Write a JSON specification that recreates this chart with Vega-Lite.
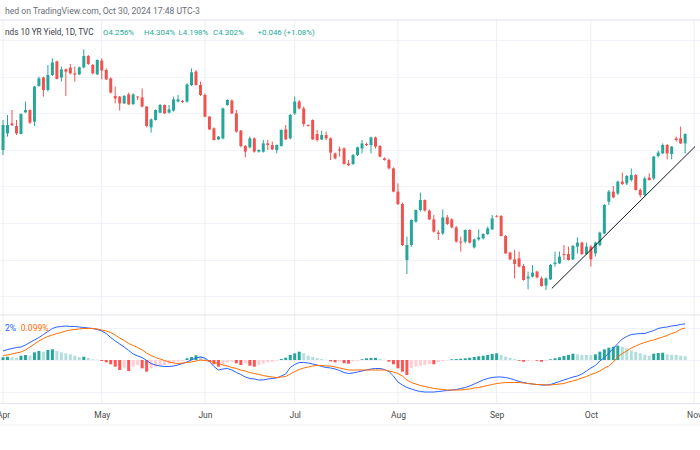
{
"$schema": "https://vega.github.io/schema/vega-lite/v6.json",
"width": 700,
"height": 403,
"autosize": {"type": "none"},
"padding": {"left": 0, "top": 0, "right": 0, "bottom": 47},
"background": "#ffffff",
"config": {"view": {"stroke": null}, "font": "Roboto"},
"datasets": {
"months": [{"i":0,"m":"Apr"},{"i":22,"m":"May"},{"i":45,"m":"Jun"},{"i":65,"m":"Jul"},{"i":88,"m":"Aug"},{"i":110,"m":"Sep"},{"i":131,"m":"Oct"},{"i":154,"m":"Nov"}],
"trend": [{"i":122.3,"p":3.558},{"i":154.2,"p":4.267}],
"candles": [
{"i":0,"open":4.25,"high":4.4,"low":4.225,"close":4.375},
{"i":1,"open":4.333,"high":4.425,"low":4.317,"close":4.375},
{"i":2,"open":4.383,"high":4.45,"low":4.37,"close":4.373},
{"i":3,"open":4.37,"high":4.4,"low":4.325,"close":4.333},
{"i":4,"open":4.33,"high":4.433,"low":4.328,"close":4.43},
{"i":5,"open":4.438,"high":4.492,"low":4.437,"close":4.45},
{"i":6,"open":4.45,"high":4.453,"low":4.38,"close":4.387},
{"i":7,"open":4.392,"high":4.57,"low":4.37,"close":4.567},
{"i":8,"open":4.57,"high":4.617,"low":4.567,"close":4.608},
{"i":9,"open":4.613,"high":4.617,"low":4.517,"close":4.55},
{"i":10,"open":4.55,"high":4.675,"low":4.542,"close":4.625},
{"i":11,"open":4.625,"high":4.708,"low":4.62,"close":4.688},
{"i":12,"open":4.693,"high":4.697,"low":4.603,"close":4.605},
{"i":13,"open":4.612,"high":4.667,"low":4.592,"close":4.653},
{"i":14,"open":4.653,"high":4.658,"low":4.52,"close":4.642},
{"i":15,"open":4.662,"high":4.68,"low":4.628,"close":4.633},
{"i":16,"open":4.633,"high":4.667,"low":4.592,"close":4.627},
{"i":17,"open":4.628,"high":4.667,"low":4.625,"close":4.663},
{"i":18,"open":4.663,"high":4.753,"low":4.658,"close":4.72},
{"i":19,"open":4.72,"high":4.725,"low":4.675,"close":4.68},
{"i":20,"open":4.675,"high":4.68,"low":4.628,"close":4.633},
{"i":21,"open":4.628,"high":4.703,"low":4.625,"close":4.7},
{"i":22,"open":4.697,"high":4.708,"low":4.603,"close":4.647},
{"i":23,"open":4.65,"high":4.658,"low":4.6,"close":4.603},
{"i":24,"open":4.608,"high":4.613,"low":4.533,"close":4.537},
{"i":25,"open":4.52,"high":4.567,"low":4.483,"close":4.508},
{"i":26,"open":4.517,"high":4.52,"low":4.447,"close":4.483},
{"i":27,"open":4.483,"high":4.525,"low":4.48,"close":4.52},
{"i":28,"open":4.528,"high":4.537,"low":4.475,"close":4.478},
{"i":29,"open":4.48,"high":4.533,"low":4.475,"close":4.528},
{"i":30,"open":4.517,"high":4.52,"low":4.5,"close":4.513},
{"i":31,"open":4.513,"high":4.558,"low":4.463,"close":4.467},
{"i":32,"open":4.467,"high":4.47,"low":4.363,"close":4.37},
{"i":33,"open":4.363,"high":4.408,"low":4.337,"close":4.403},
{"i":34,"open":4.4,"high":4.453,"low":4.397,"close":4.45},
{"i":35,"open":4.437,"high":4.48,"low":4.433,"close":4.475},
{"i":36,"open":4.475,"high":4.478,"low":4.43,"close":4.433},
{"i":37,"open":4.437,"high":4.475,"low":4.433,"close":4.453},
{"i":38,"open":4.447,"high":4.517,"low":4.442,"close":4.503},
{"i":39,"open":4.492,"high":4.525,"low":4.488,"close":4.503},
{"i":40,"open":4.495,"high":4.5,"low":4.487,"close":4.49},
{"i":41,"open":4.492,"high":4.583,"low":4.487,"close":4.578},
{"i":42,"open":4.575,"high":4.658,"low":4.57,"close":4.638},
{"i":43,"open":4.642,"high":4.65,"low":4.572,"close":4.575},
{"i":44,"open":4.575,"high":4.592,"low":4.52,"close":4.525},
{"i":45,"open":4.525,"high":4.533,"low":4.413,"close":4.417},
{"i":46,"open":4.417,"high":4.42,"low":4.35,"close":4.353},
{"i":47,"open":4.358,"high":4.363,"low":4.297,"close":4.3},
{"i":48,"open":4.303,"high":4.32,"low":4.3,"close":4.317},
{"i":49,"open":4.308,"high":4.462,"low":4.303,"close":4.458},
{"i":50,"open":4.475,"high":4.503,"low":4.472,"close":4.5},
{"i":51,"open":4.497,"high":4.503,"low":4.43,"close":4.433},
{"i":52,"open":4.433,"high":4.45,"low":4.337,"close":4.342},
{"i":53,"open":4.347,"high":4.35,"low":4.263,"close":4.27},
{"i":54,"open":4.27,"high":4.275,"low":4.213,"close":4.242},
{"i":55,"open":4.263,"high":4.317,"low":4.258,"close":4.308},
{"i":56,"open":4.308,"high":4.313,"low":4.237,"close":4.242},
{"i":57,"open":4.242,"high":4.253,"low":4.237,"close":4.25},
{"i":58,"open":4.242,"high":4.3,"low":4.237,"close":4.283},
{"i":59,"open":4.283,"high":4.3,"low":4.25,"close":4.275},
{"i":60,"open":4.275,"high":4.292,"low":4.25,"close":4.253},
{"i":61,"open":4.25,"high":4.278,"low":4.233,"close":4.275},
{"i":62,"open":4.27,"high":4.353,"low":4.267,"close":4.35},
{"i":63,"open":4.353,"high":4.375,"low":4.3,"close":4.303},
{"i":64,"open":4.308,"high":4.43,"low":4.303,"close":4.425},
{"i":65,"open":4.433,"high":4.517,"low":4.425,"close":4.492},
{"i":66,"open":4.492,"high":4.5,"low":4.453,"close":4.458},
{"i":67,"open":4.458,"high":4.467,"low":4.367,"close":4.38},
{"i":68,"open":4.375,"high":4.378,"low":4.367,"close":4.37},
{"i":69,"open":4.4,"high":4.403,"low":4.3,"close":4.303},
{"i":70,"open":4.33,"high":4.35,"low":4.292,"close":4.3},
{"i":71,"open":4.303,"high":4.347,"low":4.3,"close":4.325},
{"i":72,"open":4.325,"high":4.342,"low":4.3,"close":4.308},
{"i":73,"open":4.308,"high":4.313,"low":4.2,"close":4.237},
{"i":74,"open":4.233,"high":4.237,"low":4.203,"close":4.208},
{"i":75,"open":4.253,"high":4.267,"low":4.217,"close":4.247},
{"i":76,"open":4.258,"high":4.263,"low":4.177,"close":4.18},
{"i":77,"open":4.183,"high":4.2,"low":4.17,"close":4.175},
{"i":78,"open":4.18,"high":4.23,"low":4.175,"close":4.225},
{"i":79,"open":4.225,"high":4.267,"low":4.22,"close":4.263},
{"i":80,"open":4.258,"high":4.3,"low":4.233,"close":4.283},
{"i":81,"open":4.28,"high":4.287,"low":4.27,"close":4.275},
{"i":82,"open":4.275,"high":4.317,"low":4.233,"close":4.313},
{"i":83,"open":4.313,"high":4.317,"low":4.258,"close":4.267},
{"i":84,"open":4.27,"high":4.275,"low":4.213,"close":4.217},
{"i":85,"open":4.208,"high":4.213,"low":4.197,"close":4.2},
{"i":86,"open":4.2,"high":4.208,"low":4.153,"close":4.158},
{"i":87,"open":4.158,"high":4.163,"low":4.038,"close":4.042},
{"i":88,"open":4.042,"high":4.083,"low":3.975,"close":3.98},
{"i":89,"open":3.98,"high":3.987,"low":3.77,"close":3.775},
{"i":90,"open":3.7,"high":3.817,"low":3.63,"close":3.775},
{"i":91,"open":3.775,"high":3.903,"low":3.767,"close":3.9},
{"i":92,"open":3.892,"high":3.953,"low":3.887,"close":3.95},
{"i":93,"open":3.95,"high":4.037,"low":3.942,"close":4.0},
{"i":94,"open":4.0,"high":4.003,"low":3.942,"close":3.947},
{"i":95,"open":3.947,"high":3.953,"low":3.9,"close":3.903},
{"i":96,"open":3.903,"high":3.925,"low":3.837,"close":3.842},
{"i":97,"open":3.837,"high":3.85,"low":3.8,"close":3.83},
{"i":98,"open":3.833,"high":3.953,"low":3.825,"close":3.913},
{"i":99,"open":3.913,"high":3.925,"low":3.875,"close":3.88},
{"i":100,"open":3.903,"high":3.908,"low":3.858,"close":3.863},
{"i":101,"open":3.863,"high":3.87,"low":3.787,"close":3.792},
{"i":102,"open":3.792,"high":3.817,"low":3.742,"close":3.787},
{"i":103,"open":3.792,"high":3.853,"low":3.783,"close":3.85},
{"i":104,"open":3.85,"high":3.853,"low":3.783,"close":3.787},
{"i":105,"open":3.763,"high":3.808,"low":3.758,"close":3.803},
{"i":106,"open":3.803,"high":3.853,"low":3.797,"close":3.813},
{"i":107,"open":3.808,"high":3.833,"low":3.803,"close":3.83},
{"i":108,"open":3.83,"high":3.867,"low":3.825,"close":3.858},
{"i":109,"open":3.853,"high":3.925,"low":3.85,"close":3.908},
{"i":110,"open":3.92,"high":3.925,"low":3.913,"close":3.917},
{"i":111,"open":3.92,"high":3.925,"low":3.817,"close":3.82},
{"i":112,"open":3.82,"high":3.825,"low":3.73,"close":3.733},
{"i":113,"open":3.737,"high":3.742,"low":3.7,"close":3.703},
{"i":114,"open":3.703,"high":3.75,"low":3.608,"close":3.68},
{"i":115,"open":3.708,"high":3.742,"low":3.663,"close":3.667},
{"i":116,"open":3.67,"high":3.68,"low":3.597,"close":3.6},
{"i":117,"open":3.608,"high":3.642,"low":3.553,"close":3.617},
{"i":118,"open":3.617,"high":3.675,"low":3.613,"close":3.637},
{"i":119,"open":3.642,"high":3.647,"low":3.608,"close":3.613},
{"i":120,"open":3.608,"high":3.617,"low":3.567,"close":3.57},
{"i":121,"open":3.572,"high":3.613,"low":3.55,"close":3.608},
{"i":122,"open":3.603,"high":3.68,"low":3.6,"close":3.675},
{"i":123,"open":3.68,"high":3.742,"low":3.667,"close":3.687},
{"i":124,"open":3.683,"high":3.742,"low":3.68,"close":3.717},
{"i":125,"open":3.73,"high":3.775,"low":3.7,"close":3.725},
{"i":126,"open":3.73,"high":3.767,"low":3.697,"close":3.7},
{"i":127,"open":3.703,"high":3.775,"low":3.7,"close":3.77},
{"i":128,"open":3.767,"high":3.813,"low":3.733,"close":3.787},
{"i":129,"open":3.787,"high":3.792,"low":3.725,"close":3.73},
{"i":130,"open":3.73,"high":3.787,"low":3.725,"close":3.767},
{"i":131,"open":3.767,"high":3.775,"low":3.667,"close":3.703},
{"i":132,"open":3.733,"high":3.792,"low":3.717,"close":3.787},
{"i":133,"open":3.775,"high":3.842,"low":3.767,"close":3.837},
{"i":134,"open":3.833,"high":3.98,"low":3.83,"close":3.975},
{"i":135,"open":3.992,"high":4.05,"low":3.975,"close":4.042},
{"i":136,"open":4.042,"high":4.07,"low":4.008,"close":4.013},
{"i":137,"open":4.033,"high":4.097,"low":4.025,"close":4.092},
{"i":138,"open":4.092,"high":4.137,"low":4.075,"close":4.08},
{"i":139,"open":4.083,"high":4.125,"low":4.075,"close":4.12},
{"i":140,"open":4.1,"high":4.158,"low":4.092,"close":4.125},
{"i":141,"open":4.125,"high":4.13,"low":4.047,"close":4.05},
{"i":142,"open":4.05,"high":4.058,"low":4.013,"close":4.025},
{"i":143,"open":4.025,"high":4.117,"low":4.02,"close":4.108},
{"i":144,"open":4.112,"high":4.133,"low":4.097,"close":4.1},
{"i":145,"open":4.108,"high":4.22,"low":4.1,"close":4.217},
{"i":146,"open":4.22,"high":4.247,"low":4.213,"close":4.237},
{"i":147,"open":4.233,"high":4.283,"low":4.23,"close":4.275},
{"i":148,"open":4.275,"high":4.28,"low":4.203,"close":4.233},
{"i":149,"open":4.23,"high":4.27,"low":4.203,"close":4.267},
{"i":150,"open":4.308,"high":4.317,"low":4.292,"close":4.3},
{"i":151,"open":4.308,"high":4.367,"low":4.28,"close":4.283},
{"i":152,"open":4.283,"high":4.333,"low":4.233,"close":4.33}
],
"macd": [
{"i":0,"macd":0.0279,"signal":0.0139,"hist":0.0084,"phase":"aboveRising"},
{"i":1,"macd":0.0325,"signal":0.0155,"hist":0.0102,"phase":"aboveRising"},
{"i":2,"macd":0.0356,"signal":0.0186,"hist":0.0084,"phase":"aboveFalling"},
{"i":3,"macd":0.0387,"signal":0.0217,"hist":0.0071,"phase":"aboveFalling"},
{"i":4,"macd":0.0402,"signal":0.0248,"hist":0.0133,"phase":"aboveRising"},
{"i":5,"macd":0.0464,"signal":0.031,"hist":0.0155,"phase":"aboveRising"},
{"i":6,"macd":0.0542,"signal":0.0402,"hist":0.0133,"phase":"aboveFalling"},
{"i":7,"macd":0.0619,"signal":0.0495,"hist":0.0238,"phase":"aboveRising"},
{"i":8,"macd":0.0697,"signal":0.0588,"hist":0.0279,"phase":"aboveRising"},
{"i":9,"macd":0.0789,"signal":0.0666,"hist":0.0257,"phase":"aboveFalling"},
{"i":10,"macd":0.0882,"signal":0.0728,"hist":0.031,"phase":"aboveRising"},
{"i":11,"macd":0.0975,"signal":0.0774,"hist":0.0331,"phase":"aboveRising"},
{"i":12,"macd":0.1022,"signal":0.082,"hist":0.0279,"phase":"aboveFalling"},
{"i":13,"macd":0.1037,"signal":0.0851,"hist":0.0238,"phase":"aboveFalling"},
{"i":14,"macd":0.1053,"signal":0.0898,"hist":0.0207,"phase":"aboveFalling"},
{"i":15,"macd":0.1037,"signal":0.0929,"hist":0.0176,"phase":"aboveFalling"},
{"i":16,"macd":0.1037,"signal":0.0944,"hist":0.0133,"phase":"aboveFalling"},
{"i":17,"macd":0.1022,"signal":0.096,"hist":0.0093,"phase":"aboveFalling"},
{"i":18,"macd":0.1006,"signal":0.0975,"hist":0.0102,"phase":"aboveRising"},
{"i":19,"macd":0.0991,"signal":0.0975,"hist":0.0062,"phase":"aboveFalling"},
{"i":20,"macd":0.0975,"signal":0.0975,"hist":0.0022,"phase":"aboveFalling"},
{"i":21,"macd":0.0944,"signal":0.096,"hist":0.0009,"phase":"aboveFalling"},
{"i":22,"macd":0.0898,"signal":0.0929,"hist":-0.0031,"phase":"belowFalling"},
{"i":23,"macd":0.082,"signal":0.0898,"hist":-0.0071,"phase":"belowFalling"},
{"i":24,"macd":0.0697,"signal":0.0851,"hist":-0.0133,"phase":"belowFalling"},
{"i":25,"macd":0.0588,"signal":0.0774,"hist":-0.0207,"phase":"belowFalling"},
{"i":26,"macd":0.0495,"signal":0.0681,"hist":-0.031,"phase":"belowFalling"},
{"i":27,"macd":0.0402,"signal":0.0604,"hist":-0.0238,"phase":"belowRising"},
{"i":28,"macd":0.0294,"signal":0.0511,"hist":-0.0341,"phase":"belowFalling"},
{"i":29,"macd":0.0186,"signal":0.0449,"hist":-0.0207,"phase":"belowRising"},
{"i":30,"macd":0.0124,"signal":0.0387,"hist":-0.0155,"phase":"belowRising"},
{"i":31,"macd":0.0077,"signal":0.031,"hist":-0.0257,"phase":"belowFalling"},
{"i":32,"macd":-0.0015,"signal":0.0217,"hist":-0.0362,"phase":"belowFalling"},
{"i":33,"macd":-0.0108,"signal":0.0139,"hist":-0.0257,"phase":"belowRising"},
{"i":34,"macd":-0.0155,"signal":0.0077,"hist":-0.0217,"phase":"belowRising"},
{"i":35,"macd":-0.0186,"signal":0.0031,"hist":-0.0186,"phase":"belowRising"},
{"i":36,"macd":-0.0201,"signal":-0.0015,"hist":-0.0155,"phase":"belowRising"},
{"i":37,"macd":-0.0201,"signal":-0.0062,"hist":-0.0124,"phase":"belowRising"},
{"i":38,"macd":-0.0186,"signal":-0.0093,"hist":-0.0093,"phase":"belowRising"},
{"i":39,"macd":-0.0155,"signal":-0.0108,"hist":-0.0053,"phase":"belowRising"},
{"i":40,"macd":-0.0108,"signal":-0.0093,"hist":-0.0031,"phase":"belowRising"},
{"i":41,"macd":-0.0062,"signal":-0.0077,"hist":0.0053,"phase":"aboveRising"},
{"i":42,"macd":0.0,"signal":-0.0062,"hist":0.0093,"phase":"aboveRising"},
{"i":43,"macd":0.0062,"signal":-0.0031,"hist":0.0146,"phase":"aboveRising"},
{"i":44,"macd":0.0093,"signal":0.0,"hist":0.0115,"phase":"aboveFalling"},
{"i":45,"macd":0.0062,"signal":-0.0015,"hist":0.0053,"phase":"aboveFalling"},
{"i":46,"macd":-0.0046,"signal":-0.0031,"hist":-0.0053,"phase":"belowFalling"},
{"i":47,"macd":-0.0201,"signal":-0.0077,"hist":-0.0133,"phase":"belowFalling"},
{"i":48,"macd":-0.031,"signal":-0.0108,"hist":-0.0207,"phase":"belowFalling"},
{"i":49,"macd":-0.0279,"signal":-0.0155,"hist":-0.0133,"phase":"belowRising"},
{"i":50,"macd":-0.0263,"signal":-0.0186,"hist":-0.0071,"phase":"belowRising"},
{"i":51,"macd":-0.031,"signal":-0.0232,"hist":-0.0053,"phase":"belowRising"},
{"i":52,"macd":-0.0387,"signal":-0.0263,"hist":-0.0102,"phase":"belowFalling"},
{"i":53,"macd":-0.0449,"signal":-0.031,"hist":-0.0155,"phase":"belowFalling"},
{"i":54,"macd":-0.0526,"signal":-0.0341,"hist":-0.0102,"phase":"belowRising"},
{"i":55,"macd":-0.0573,"signal":-0.0387,"hist":-0.0176,"phase":"belowFalling"},
{"i":56,"macd":-0.0588,"signal":-0.0418,"hist":-0.0207,"phase":"belowFalling"},
{"i":57,"macd":-0.0619,"signal":-0.0449,"hist":-0.0155,"phase":"belowRising"},
{"i":58,"macd":-0.0619,"signal":-0.048,"hist":-0.0115,"phase":"belowRising"},
{"i":59,"macd":-0.0588,"signal":-0.0511,"hist":-0.0071,"phase":"belowRising"},
{"i":60,"macd":-0.0573,"signal":-0.0526,"hist":-0.0053,"phase":"belowRising"},
{"i":61,"macd":-0.0557,"signal":-0.0542,"hist":-0.0022,"phase":"belowRising"},
{"i":62,"macd":-0.0495,"signal":-0.0526,"hist":0.0031,"phase":"aboveRising"},
{"i":63,"macd":-0.0433,"signal":-0.0511,"hist":0.0071,"phase":"aboveRising"},
{"i":64,"macd":-0.0232,"signal":-0.0433,"hist":0.0155,"phase":"aboveRising"},
{"i":65,"macd":-0.0139,"signal":-0.0356,"hist":0.0207,"phase":"aboveRising"},
{"i":66,"macd":-0.0077,"signal":-0.0294,"hist":0.0257,"phase":"aboveRising"},
{"i":67,"macd":-0.0077,"signal":-0.0248,"hist":0.0207,"phase":"aboveFalling"},
{"i":68,"macd":-0.0093,"signal":-0.0217,"hist":0.0133,"phase":"aboveFalling"},
{"i":69,"macd":-0.0124,"signal":-0.0186,"hist":0.0093,"phase":"aboveFalling"},
{"i":70,"macd":-0.0155,"signal":-0.017,"hist":0.0062,"phase":"aboveFalling"},
{"i":71,"macd":-0.0201,"signal":-0.017,"hist":0.0031,"phase":"aboveFalling"},
{"i":72,"macd":-0.0232,"signal":-0.0186,"hist":0.0009,"phase":"aboveFalling"},
{"i":73,"macd":-0.0248,"signal":-0.0186,"hist":-0.004,"phase":"belowFalling"},
{"i":74,"macd":-0.0279,"signal":-0.0217,"hist":-0.0071,"phase":"belowFalling"},
{"i":75,"macd":-0.0325,"signal":-0.0248,"hist":-0.0053,"phase":"belowRising"},
{"i":76,"macd":-0.0387,"signal":-0.0279,"hist":-0.0102,"phase":"belowFalling"},
{"i":77,"macd":-0.0418,"signal":-0.031,"hist":-0.0115,"phase":"belowFalling"},
{"i":78,"macd":-0.0402,"signal":-0.031,"hist":-0.004,"phase":"belowRising"},
{"i":79,"macd":-0.0372,"signal":-0.031,"hist":-0.0022,"phase":"belowRising"},
{"i":80,"macd":-0.0341,"signal":-0.031,"hist":0.0022,"phase":"aboveRising"},
{"i":81,"macd":-0.031,"signal":-0.031,"hist":0.0053,"phase":"aboveRising"},
{"i":82,"macd":-0.0279,"signal":-0.031,"hist":0.0062,"phase":"aboveRising"},
{"i":83,"macd":-0.0263,"signal":-0.031,"hist":0.0068,"phase":"aboveRising"},
{"i":84,"macd":-0.0263,"signal":-0.031,"hist":0.004,"phase":"aboveFalling"},
{"i":85,"macd":-0.0294,"signal":-0.031,"hist":0.0009,"phase":"aboveFalling"},
{"i":86,"macd":-0.0356,"signal":-0.0341,"hist":-0.0053,"phase":"belowFalling"},
{"i":87,"macd":-0.0495,"signal":-0.0372,"hist":-0.0133,"phase":"belowFalling"},
{"i":88,"macd":-0.0681,"signal":-0.0418,"hist":-0.0257,"phase":"belowFalling"},
{"i":89,"macd":-0.0774,"signal":-0.0495,"hist":-0.0362,"phase":"belowFalling"},
{"i":90,"macd":-0.0851,"signal":-0.0619,"hist":-0.0464,"phase":"belowFalling"},
{"i":91,"macd":-0.0898,"signal":-0.0697,"hist":-0.0257,"phase":"belowRising"},
{"i":92,"macd":-0.0944,"signal":-0.0743,"hist":-0.0207,"phase":"belowRising"},
{"i":93,"macd":-0.0975,"signal":-0.0789,"hist":-0.0176,"phase":"belowRising"},
{"i":94,"macd":-0.0991,"signal":-0.082,"hist":-0.0155,"phase":"belowRising"},
{"i":95,"macd":-0.0991,"signal":-0.0851,"hist":-0.0124,"phase":"belowRising"},
{"i":96,"macd":-0.0991,"signal":-0.0882,"hist":-0.0133,"phase":"belowFalling"},
{"i":97,"macd":-0.0975,"signal":-0.0898,"hist":-0.0071,"phase":"belowRising"},
{"i":98,"macd":-0.096,"signal":-0.0913,"hist":-0.0031,"phase":"belowRising"},
{"i":99,"macd":-0.0944,"signal":-0.0929,"hist":-0.0009,"phase":"belowRising"},
{"i":100,"macd":-0.0929,"signal":-0.0929,"hist":0.0022,"phase":"aboveRising"},
{"i":101,"macd":-0.0913,"signal":-0.0929,"hist":0.0031,"phase":"aboveRising"},
{"i":102,"macd":-0.0882,"signal":-0.0929,"hist":0.004,"phase":"aboveRising"},
{"i":103,"macd":-0.0851,"signal":-0.0913,"hist":0.0053,"phase":"aboveRising"},
{"i":104,"macd":-0.0805,"signal":-0.0898,"hist":0.0071,"phase":"aboveRising"},
{"i":105,"macd":-0.0743,"signal":-0.0867,"hist":0.0093,"phase":"aboveRising"},
{"i":106,"macd":-0.0681,"signal":-0.0851,"hist":0.0115,"phase":"aboveRising"},
{"i":107,"macd":-0.0619,"signal":-0.082,"hist":0.0133,"phase":"aboveRising"},
{"i":108,"macd":-0.0573,"signal":-0.0789,"hist":0.0155,"phase":"aboveRising"},
{"i":109,"macd":-0.0542,"signal":-0.0759,"hist":0.0186,"phase":"aboveRising"},
{"i":110,"macd":-0.0526,"signal":-0.0728,"hist":0.0207,"phase":"aboveRising"},
{"i":111,"macd":-0.0526,"signal":-0.0712,"hist":0.0155,"phase":"aboveFalling"},
{"i":112,"macd":-0.0542,"signal":-0.0697,"hist":0.0102,"phase":"aboveFalling"},
{"i":113,"macd":-0.0573,"signal":-0.0697,"hist":0.0071,"phase":"aboveFalling"},
{"i":114,"macd":-0.0619,"signal":-0.0697,"hist":0.0031,"phase":"aboveFalling"},
{"i":115,"macd":-0.0666,"signal":-0.0697,"hist":-0.0022,"phase":"belowFalling"},
{"i":116,"macd":-0.0697,"signal":-0.0712,"hist":-0.0053,"phase":"belowFalling"},
{"i":117,"macd":-0.0728,"signal":-0.0728,"hist":-0.0031,"phase":"belowRising"},
{"i":118,"macd":-0.0743,"signal":-0.0743,"hist":-0.0009,"phase":"belowRising"},
{"i":119,"macd":-0.0759,"signal":-0.0759,"hist":-0.0022,"phase":"belowFalling"},
{"i":120,"macd":-0.0774,"signal":-0.0759,"hist":-0.0053,"phase":"belowFalling"},
{"i":121,"macd":-0.0774,"signal":-0.0774,"hist":-0.0022,"phase":"belowRising"},
{"i":122,"macd":-0.0759,"signal":-0.0774,"hist":0.0022,"phase":"aboveRising"},
{"i":123,"macd":-0.0712,"signal":-0.0759,"hist":0.0053,"phase":"aboveRising"},
{"i":124,"macd":-0.0666,"signal":-0.0743,"hist":0.0084,"phase":"aboveRising"},
{"i":125,"macd":-0.0619,"signal":-0.0728,"hist":0.0124,"phase":"aboveRising"},
{"i":126,"macd":-0.0573,"signal":-0.0681,"hist":0.0155,"phase":"aboveRising"},
{"i":127,"macd":-0.0526,"signal":-0.065,"hist":0.0195,"phase":"aboveRising"},
{"i":128,"macd":-0.0495,"signal":-0.0604,"hist":0.0176,"phase":"aboveFalling"},
{"i":129,"macd":-0.0433,"signal":-0.0557,"hist":0.0155,"phase":"aboveFalling"},
{"i":130,"macd":-0.0341,"signal":-0.0511,"hist":0.0155,"phase":"aboveFalling"},
{"i":131,"macd":-0.0248,"signal":-0.0449,"hist":0.0146,"phase":"aboveFalling"},
{"i":132,"macd":-0.017,"signal":-0.0402,"hist":0.0176,"phase":"aboveRising"},
{"i":133,"macd":-0.0031,"signal":-0.0341,"hist":0.0257,"phase":"aboveRising"},
{"i":134,"macd":0.0077,"signal":-0.0248,"hist":0.0331,"phase":"aboveRising"},
{"i":135,"macd":0.0217,"signal":-0.0186,"hist":0.0381,"phase":"aboveRising"},
{"i":136,"macd":0.0356,"signal":-0.0062,"hist":0.0412,"phase":"aboveRising"},
{"i":137,"macd":0.0511,"signal":0.0093,"hist":0.0443,"phase":"aboveRising"},
{"i":138,"macd":0.065,"signal":0.0201,"hist":0.0412,"phase":"aboveFalling"},
{"i":139,"macd":0.0728,"signal":0.0279,"hist":0.0362,"phase":"aboveFalling"},
{"i":140,"macd":0.0789,"signal":0.0372,"hist":0.03,"phase":"aboveFalling"},
{"i":141,"macd":0.0805,"signal":0.0433,"hist":0.0257,"phase":"aboveFalling"},
{"i":142,"macd":0.082,"signal":0.0495,"hist":0.0207,"phase":"aboveFalling"},
{"i":143,"macd":0.082,"signal":0.0542,"hist":0.0164,"phase":"aboveFalling"},
{"i":144,"macd":0.0867,"signal":0.0588,"hist":0.0133,"phase":"aboveFalling"},
{"i":145,"macd":0.0913,"signal":0.0619,"hist":0.0195,"phase":"aboveRising"},
{"i":146,"macd":0.0975,"signal":0.0666,"hist":0.0217,"phase":"aboveRising"},
{"i":147,"macd":0.1006,"signal":0.0712,"hist":0.0226,"phase":"aboveRising"},
{"i":148,"macd":0.1022,"signal":0.0759,"hist":0.0176,"phase":"aboveFalling"},
{"i":149,"macd":0.1053,"signal":0.082,"hist":0.0164,"phase":"aboveFalling"},
{"i":150,"macd":0.1068,"signal":0.0867,"hist":0.0155,"phase":"aboveFalling"},
{"i":151,"macd":0.11,"signal":0.095,"hist":0.0133,"phase":"aboveFalling"},
{"i":152,"macd":0.112,"signal":0.099,"hist":0.0115,"phase":"aboveFalling"}
]
},
"layer": [
  {
    "layer": [
      {"data": {"name": "months"},
       "mark": {"type": "rule", "color": "#eceef3", "strokeWidth": 1},
       "encoding": {
         "x": {"field": "i", "type": "quantitative",
               "scale": {"domain": [0.44, 154.2], "nice": false, "zero": false},
               "axis": {"values": [0,22,45,65,88,110,131,154],
                        "labelExpr": "datum.value < 11 ? 'Apr' : datum.value < 33 ? 'May' : datum.value < 55 ? 'Jun' : datum.value < 76 ? 'Jul' : datum.value < 99 ? 'Aug' : datum.value < 120 ? 'Sep' : datum.value < 142 ? 'Oct' : 'Nov'",
                        "grid": false, "ticks": false, "domain": true, "domainColor": "#e0e3eb",
                        "labelColor": "#4a4a4a", "labelFontSize": 8.5, "labelFont": "Roboto", "labelPadding": 7,
                        "labelOverlap": false, "labelBound": false, "labelFlush": false, "title": null}},
         "y": {"datum": 4.9, "type": "quantitative",
               "scale": {"domain": [3.425, 4.9], "range": [315, 20], "nice": false, "zero": false},
               "axis": {"values": [4.8, 4.617, 4.434, 4.251, 4.068, 3.885, 3.702, 3.519], "grid": true, "gridColor": "#f0f3fa",
                        "labels": false, "ticks": false, "domain": false, "title": null}},
         "y2": {"datum": 2.985}}},
      {"data": {"values": [{"line": "top"}]},
       "mark": {"type": "rule", "color": "#e0e3eb", "strokeWidth": 1},
       "encoding": {"y": {"datum": 4.9, "type": "quantitative"}}},
      {"data": {"values": [{"line": "pane"}]},
       "mark": {"type": "rule", "color": "#e0e3eb", "strokeWidth": 1},
       "encoding": {"y": {"datum": 3.425, "type": "quantitative"}}},
      {"data": {"values": [{"line": "timeaxis"}]},
       "mark": {"type": "rule", "color": "#eef0f3", "strokeWidth": 1},
       "encoding": {"y": {"datum": 2.875, "type": "quantitative"}}},
      {"data": {"name": "candles"},
       "mark": {"type": "rule", "strokeWidth": 1},
       "encoding": {
         "x": {"field": "i", "type": "quantitative"},
         "y": {"field": "low", "type": "quantitative"},
         "y2": {"field": "high"},
         "color": {"condition": {"test": "datum.close >= datum.open", "value": "#26a69a"}, "value": "#ef5350"}}},
      {"data": {"name": "candles"},
       "mark": {"type": "bar", "size": 3},
       "encoding": {
         "x": {"field": "i", "type": "quantitative"},
         "y": {"field": "open", "type": "quantitative"},
         "y2": {"field": "close"},
         "color": {"condition": {"test": "datum.close >= datum.open", "value": "#26a69a"}, "value": "#ef5350"}}},
      {"data": {"name": "trend"},
       "mark": {"type": "line", "color": "#131722", "strokeWidth": 1},
       "encoding": {"x": {"field": "i", "type": "quantitative"}, "y": {"field": "p", "type": "quantitative"}}},
      {"data": {"values": [{"t": "hed on TradingView.com, Oct 30, 2024 17:48 UTC-3"}]},
       "mark": {"type": "text", "align": "left", "baseline": "middle", "fontSize": 8.6, "color": "#6a6d78"},
       "encoding": {"x": {"datum": 0.44, "type": "quantitative"}, "y": {"datum": 4.945, "type": "quantitative"}, "text": {"field": "t"}}},
      {"data": {"values": [{"t": "nds 10 YR Yield, 1D, TVC"}]},
       "mark": {"type": "text", "align": "left", "baseline": "middle", "fontSize": 8.2, "color": "#3a3d46"},
       "encoding": {"x": {"datum": 0.44, "type": "quantitative"}, "y": {"datum": 4.835, "type": "quantitative"}, "text": {"field": "t"}}},
      {"data": {"values": [{"t": "O4.256%"}]},
       "mark": {"type": "text", "align": "left", "baseline": "middle", "fontSize": 7.9, "color": "#22ab94"},
       "encoding": {"x": {"datum": 22.3, "type": "quantitative"}, "y": {"datum": 4.835, "type": "quantitative"}, "text": {"field": "t"}}},
      {"data": {"values": [{"t": "H4.304%"}]},
       "mark": {"type": "text", "align": "left", "baseline": "middle", "fontSize": 7.9, "color": "#22ab94"},
       "encoding": {"x": {"datum": 31.4, "type": "quantitative"}, "y": {"datum": 4.835, "type": "quantitative"}, "text": {"field": "t"}}},
      {"data": {"values": [{"t": "L4.198%"}]},
       "mark": {"type": "text", "align": "left", "baseline": "middle", "fontSize": 7.9, "color": "#22ab94"},
       "encoding": {"x": {"datum": 39.1, "type": "quantitative"}, "y": {"datum": 4.835, "type": "quantitative"}, "text": {"field": "t"}}},
      {"data": {"values": [{"t": "C4.302%"}]},
       "mark": {"type": "text", "align": "left", "baseline": "middle", "fontSize": 7.9, "color": "#22ab94"},
       "encoding": {"x": {"datum": 46.8, "type": "quantitative"}, "y": {"datum": 4.835, "type": "quantitative"}, "text": {"field": "t"}}},
      {"data": {"values": [{"t": "+0.046 (+1.08%)"}]},
       "mark": {"type": "text", "align": "left", "baseline": "middle", "fontSize": 7.9, "color": "#22ab94"},
       "encoding": {"x": {"datum": 56.7, "type": "quantitative"}, "y": {"datum": 4.835, "type": "quantitative"}, "text": {"field": "t"}}}
    ]
  },
  {
    "layer": [
      {"data": {"name": "macd"},
       "mark": {"type": "bar", "size": 3},
       "encoding": {
         "x": {"field": "i", "type": "quantitative"},
         "y": {"field": "hist", "type": "quantitative",
               "scale": {"domain": [-0.1331, 0.1393], "range": [403, 315], "nice": false, "zero": false},
               "axis": {"values": [-0.1, 0, 0.1], "grid": true, "gridColor": "#f0f3fa",
                        "labels": false, "ticks": false, "domain": false, "title": null}},
         "y2": {"datum": 0},
         "color": {"field": "phase", "type": "nominal",
                   "scale": {"domain": ["aboveRising", "aboveFalling", "belowFalling", "belowRising"],
                             "range": ["#26a69a", "#b2dfdb", "#ff5252", "#ffcdd2"]},
                   "legend": null}}},
      {"data": {"name": "macd"},
       "mark": {"type": "line", "color": "#2962ff", "strokeWidth": 1},
       "encoding": {"x": {"field": "i", "type": "quantitative"}, "y": {"field": "macd", "type": "quantitative"}}},
      {"data": {"name": "macd"},
       "mark": {"type": "line", "color": "#ff6d00", "strokeWidth": 1},
       "encoding": {"x": {"field": "i", "type": "quantitative"}, "y": {"field": "signal", "type": "quantitative"}}},
      {"data": {"values": [{"t": "2%"}]},
       "mark": {"type": "text", "align": "left", "baseline": "middle", "fontSize": 8.6, "color": "#2962ff"},
       "encoding": {"x": {"datum": 0.44, "type": "quantitative"}, "y": {"datum": 0.099, "type": "quantitative"}, "text": {"field": "t"}}},
      {"data": {"values": [{"t": "0.099%"}]},
       "mark": {"type": "text", "align": "left", "baseline": "middle", "fontSize": 8.6, "color": "#ff6d00"},
       "encoding": {"x": {"datum": 3.95, "type": "quantitative"}, "y": {"datum": 0.099, "type": "quantitative"}, "text": {"field": "t"}}}
    ]
  }
],
"resolve": {"scale": {"y": "independent"}}
}
